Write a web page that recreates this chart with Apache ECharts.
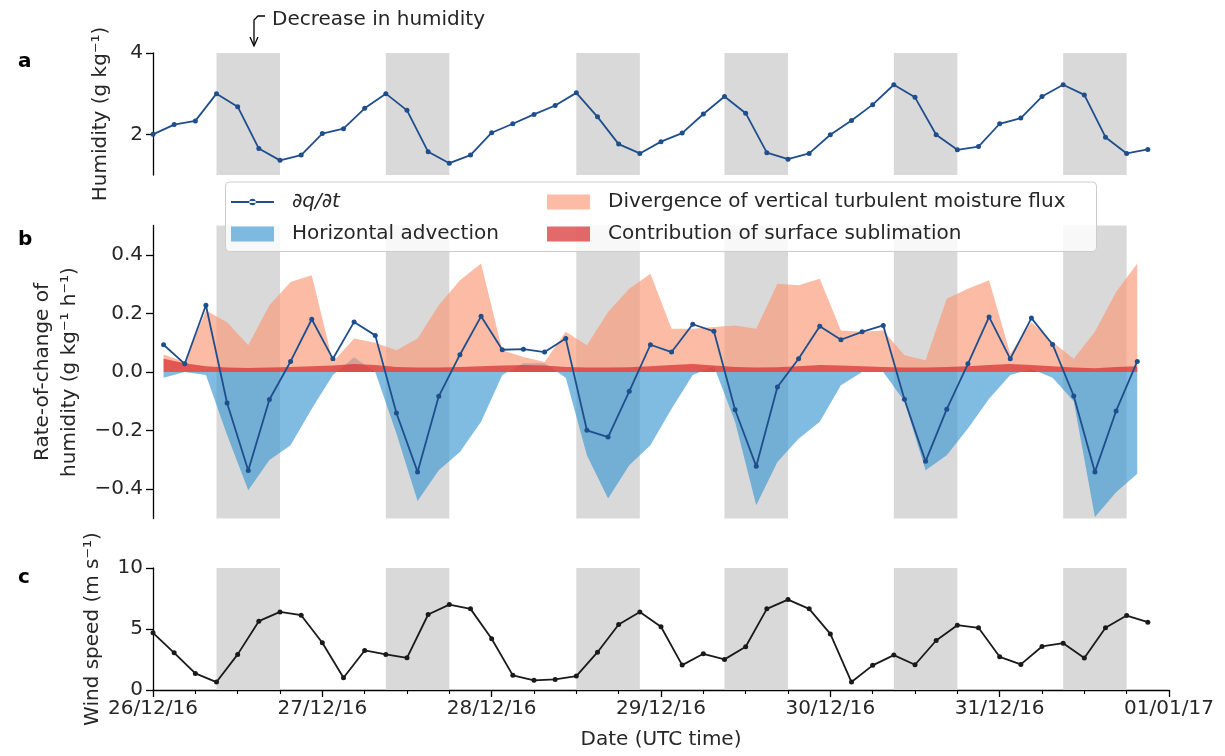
<!DOCTYPE html>
<html><head><meta charset="utf-8">
<script src="https://cdn.jsdelivr.net/npm/echarts@6/dist/echarts.min.js"></script>
<style>html,body{margin:0;padding:0;background:#fff}#c{width:1225px;height:756px}</style>
</head><body><div id="c"></div>
<script>
// ---- data ----
const dayLabels = ['26/12/16','27/12/16','28/12/16','29/12/16','30/12/16','31/12/16','01/01/17'];
const stepHours = 3;           // sampling interval (h) from 26/12/16 00 UTC
const rateOffsetHours = 1.5;   // rate-of-change is centred between samples
const humidity = [2.0,2.24,2.33,3.0,2.68,1.65,1.36,1.49,2.02,2.14,2.64,3.0,2.59,1.57,1.29,1.49,2.04,2.26,2.49,2.71,3.02,2.43,1.76,1.53,1.82,2.03,2.50,2.93,2.52,1.55,1.39,1.53,1.99,2.34,2.73,3.22,2.91,1.99,1.62,1.70,2.26,2.40,2.93,3.22,2.97,1.93,1.53,1.63];
const rateChange = [0.093,0.028,0.228,-0.106,-0.336,-0.094,0.036,0.18,0.045,0.171,0.125,-0.14,-0.341,-0.083,0.059,0.19,0.076,0.078,0.068,0.114,-0.199,-0.222,-0.066,0.093,0.068,0.163,0.139,-0.129,-0.322,-0.051,0.045,0.156,0.11,0.137,0.159,-0.093,-0.305,-0.127,0.028,0.188,0.045,0.184,0.094,-0.082,-0.341,-0.133,0.036];
const horizAdvection = [-0.02,0.0,-0.01,-0.215,-0.404,-0.30,-0.25,-0.125,-0.01,0.05,0.0,-0.21,-0.44,-0.335,-0.273,-0.17,-0.01,0.03,0.03,-0.02,-0.284,-0.432,-0.318,-0.25,-0.125,-0.01,0.02,-0.17,-0.455,-0.307,-0.228,-0.17,-0.045,0.0,0.0,-0.10,-0.335,-0.284,-0.193,-0.091,-0.01,0.01,-0.02,-0.10,-0.495,-0.41,-0.347];
const vertFluxDiv = [0.06,0.034,0.21,0.17,0.091,0.228,0.307,0.33,0.034,0.114,0.10,0.074,0.114,0.228,0.313,0.37,0.074,0.051,0.034,0.137,0.091,0.205,0.284,0.335,0.148,0.148,0.154,0.159,0.148,0.301,0.296,0.318,0.142,0.137,0.142,0.057,0.04,0.25,0.284,0.313,0.062,0.171,0.102,0.045,0.137,0.273,0.37];
const sublimation = [0.045,0.03,0.02,0.015,0.014,0.015,0.017,0.02,0.022,0.027,0.024,0.017,0.015,0.015,0.017,0.02,0.022,0.024,0.022,0.017,0.015,0.015,0.016,0.02,0.024,0.027,0.022,0.017,0.015,0.016,0.02,0.024,0.022,0.02,0.017,0.015,0.015,0.017,0.02,0.024,0.027,0.024,0.02,0.015,0.013,0.017,0.02];
const windSpeed = [4.69,3.05,1.36,0.65,2.92,5.64,6.40,6.13,3.87,1.01,3.24,2.92,2.64,6.19,7.0,6.65,4.2,1.2,0.79,0.87,1.14,3.1,5.37,6.40,5.18,2.04,2.97,2.51,3.54,6.65,7.41,6.65,4.6,0.65,2.02,2.86,2.07,4.06,5.31,5.10,2.72,2.10,3.57,3.84,2.62,5.10,6.10,5.56];
const shadeBands = [[9,18],[33,42],[60,69],[81,90],[105,114],[129,138]]; // hours since start
const yTicksA = [2,4];
const yTicksB = [-0.4,-0.2,0,0.2,0.4];
const yTicksC = [0,5,10];
const names = {dq:'∂q/∂t', adv:'Horizontal advection', div:'Divergence of vertical turbulent moisture flux', sub:'Contribution of surface sublimation'};

// ---- styles ----
const FONT = '"DejaVu Sans", sans-serif';
const FS = 20;
const TXT = '#262626';
const C_LINE = '#1f4e8c';
const C_ADV = 'rgba(60,150,210,0.65)';
const C_DIV = 'rgba(250,150,115,0.65)';
const C_SUB = 'rgba(215,48,48,0.72)';
const C_BAND = '#d9d9d9';

const pairs = (arr, off) => arr.map((v,i)=>[i*stepHours+off, v]);
const minus = s => String(s).replace('-', '\u2212');

function bandSeries(k){
  return {type:'line', xAxisIndex:k, yAxisIndex:k, data:[], silent:true, z:1,
    markArea:{silent:true, itemStyle:{color:C_BAND}, data: shadeBands.map(b=>[{xAxis:b[0]},{xAxis:b[1]}])}};
}
function areaSeries(name, arr, color, z){
  return {name, type:'line', xAxisIndex:1, yAxisIndex:1, data:pairs(arr, rateOffsetHours), symbol:'none',
    lineStyle:{width:0}, itemStyle:{color}, areaStyle:{color, opacity:1, origin:0}, z, silent:true, animation:false};
}
function yAxis(k, min, max, ticks, fmt, name, gap){
  return {type:'value', gridIndex:k, min, max,
    axisLine:{show:true, lineStyle:{color:'#000', width:1.3}},
    axisTick:{show:true, length:7, customValues:ticks, lineStyle:{color:'#000', width:1.3}},
    axisLabel:{customValues:ticks, formatter:fmt, fontSize:FS, fontFamily:FONT, color:TXT, margin:10},
    splitLine:{show:false},
    name, nameLocation:'middle', nameRotate:90, nameGap:gap,
    nameTextStyle:{fontSize:FS, fontFamily:FONT, color:TXT, lineHeight:27}};
}
function xAxis(k, show){
  return {type:'value', gridIndex:k, min:0, max:144, interval:24, show,
    axisLine:{show:true, onZero:false, lineStyle:{color:'#000', width:1.3}},
    axisTick:{show:true, length:7, lineStyle:{color:'#000', width:1.3}},
    minorTick:{show:true, splitNumber:4, length:4, lineStyle:{color:'#000', width:1.1}},
    axisLabel:{formatter:v=>dayLabels[Math.round(v/24)], fontSize:FS, fontFamily:FONT, color:TXT, margin:9},
    splitLine:{show:false}, minorSplitLine:{show:false},
    name: show ? 'Date (UTC time)' : '', nameLocation:'middle', nameGap:40,
    nameTextStyle:{fontSize:FS, fontFamily:FONT, color:TXT}};
}

const dqIcon = 'path://M0,0L0.05,0L0.05,0.05Z M42.95,14.95L43,15L42.95,15Z M0,6.6L43,6.6L43,8.4L0,8.4Z M18.3,7.5A3.2,3.2,0,1,0,24.7,7.5A3.2,3.2,0,1,0,18.3,7.5Z';

const legendBase = {orient:'vertical', top:192, padding:0, itemWidth:43, itemHeight:15, itemGap:12, z:10,
  itemStyle:{borderWidth:0}, selectedMode:false,
  textStyle:{fontSize:FS, fontFamily:FONT, color:TXT, padding:[0,0,0,13]}};

const option = {
  animation:false,
  backgroundColor:'#fff',
  grid:[
    {left:153, right:56, top:53, height:122},
    {left:153, right:56, top:225.5, height:293},
    {left:153, right:56, top:568, height:122}
  ],
  xAxis:[xAxis(0,false), xAxis(1,false), xAxis(2,true)],
  yAxis:[
    yAxis(0, 1, 4, yTicksA, v=>String(v), 'Humidity (g kg\u207B\u00B9)', 39),
    yAxis(1, -0.5, 0.5, yTicksB, v=>minus(v.toFixed(1)), 'Rate-of-change of\nhumidity (g kg\u207B\u00B9 h\u207B\u00B9)', 61),
    yAxis(2, 0, 10, yTicksC, v=>String(v), 'Wind speed (m s\u207B\u00B9)', 40)
  ],
  legend:[
    Object.assign({}, legendBase, {left:231, data:[
      {name:names.dq, icon:dqIcon, itemStyle:{color:C_LINE}, textStyle:{fontStyle:'italic'}},
      {name:names.adv, icon:'rect', itemStyle:{color:C_ADV}}]}),
    Object.assign({}, legendBase, {left:547, data:[
      {name:names.div, icon:'rect', itemStyle:{color:C_DIV}},
      {name:names.sub, icon:'rect', itemStyle:{color:C_SUB}}]})
  ],
  graphic:[
    {type:'rect', z:5, silent:true, shape:{x:225.5, y:182, width:871, height:69.5, r:4},
      style:{fill:'rgba(255,255,255,0.8)', stroke:'#cccccc', lineWidth:1}},
    {type:'text', z:5, style:{text:'a', x:18, y:62, font:'bold 20px "DejaVu Sans"', fill:'#000', verticalAlign:'middle'}},
    {type:'text', z:5, style:{text:'b', x:18, y:240, font:'bold 20px "DejaVu Sans"', fill:'#000', verticalAlign:'middle'}},
    {type:'text', z:5, style:{text:'c', x:18, y:578, font:'bold 20px "DejaVu Sans"', fill:'#000', verticalAlign:'middle'}},
    {type:'text', z:5, style:{text:'Decrease in humidity', x:272, y:20, font:'20px "DejaVu Sans"', fill:TXT, verticalAlign:'middle'}},
    {type:'polyline', z:5, shape:{points:[[265,16],[258,16],[254,20],[254,45]]}, style:{stroke:'#000', lineWidth:1.3, fill:null}},
    {type:'polyline', z:5, shape:{points:[[250,37],[254,46],[258,37]]}, style:{stroke:'#000', lineWidth:1.3, fill:null}}
  ],
  series:[
    bandSeries(0), bandSeries(1), bandSeries(2),
    {name:'humidity', type:'line', xAxisIndex:0, yAxisIndex:0, data:pairs(humidity,0), symbol:'circle', symbolSize:5,
      lineStyle:{color:C_LINE, width:1.8}, itemStyle:{color:C_LINE}, z:5},
    areaSeries(names.adv, horizAdvection, C_ADV, 3),
    areaSeries(names.div, vertFluxDiv, C_DIV, 3),
    areaSeries(names.sub, sublimation, C_SUB, 4),
    {name:names.dq, type:'line', xAxisIndex:1, yAxisIndex:1, data:pairs(rateChange, rateOffsetHours), symbol:'circle', symbolSize:5,
      lineStyle:{color:C_LINE, width:1.8}, itemStyle:{color:C_LINE}, z:5},
    {name:'wind', type:'line', xAxisIndex:2, yAxisIndex:2, data:pairs(windSpeed,0), symbol:'circle', symbolSize:5,
      lineStyle:{color:'#1a1a1a', width:1.8}, itemStyle:{color:'#1a1a1a'}, z:5}
  ]
};
echarts.init(document.getElementById('c')).setOption(option);
</script></body></html>
